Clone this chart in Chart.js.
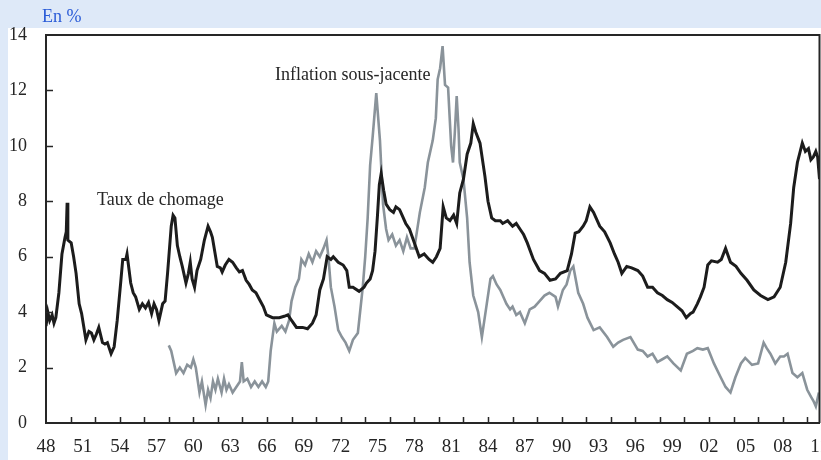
<!DOCTYPE html>
<html lang="fr">
<head>
    <meta charset="UTF-8">
    <title>Taux de chomage et inflation sous-jacente</title>
    <script src="https://cdn.jsdelivr.net/npm/chart.js"></script>
    <style>
        body {
            margin: 0;
            padding: 0;
            background-color: #dee9f8;
            overflow: hidden;
        }
        #wrap {
            width: 821px;
            height: 460px;
            position: relative;
        }
    </style>
</head>
<body>
<div id="wrap">
    <canvas id="chart" width="821" height="460"></canvas>
</div>
<script>
    // Taux de chomage (en %)
    var chomageAnnees = [
        1948.0, 1948.15, 1948.3, 1948.5, 1948.65, 1948.8, 1949.05, 1949.3, 1949.55, 1949.65,
        1949.72, 1949.78, 1950.05, 1950.25, 1950.45, 1950.7, 1950.9, 1951.25, 1951.5, 1951.7,
        1951.9, 1952.1, 1952.3, 1952.6, 1952.8, 1953.0, 1953.3, 1953.55, 1953.8, 1954.1,
        1954.25, 1954.5, 1954.6, 1954.9, 1955.1, 1955.3, 1955.6, 1955.85, 1956.1, 1956.35,
        1956.6, 1956.8, 1957.0, 1957.2, 1957.5, 1957.7, 1957.9, 1958.2, 1958.35, 1958.5,
        1958.7, 1958.9, 1959.1, 1959.4, 1959.6, 1959.75, 1959.9, 1960.1, 1960.3, 1960.6,
        1960.9, 1961.2, 1961.4, 1961.55, 1961.95, 1962.2, 1962.35, 1962.6, 1962.9, 1963.2,
        1963.5, 1963.75, 1964.0, 1964.3, 1964.55, 1964.8, 1965.1, 1965.4, 1965.7, 1965.95,
        1966.45, 1967.0, 1967.4, 1967.7, 1968.0, 1968.4, 1968.9, 1969.3, 1969.7, 1970.0,
        1970.3, 1970.6, 1970.9, 1971.2, 1971.4, 1971.8, 1972.2, 1972.5, 1972.7, 1973.0,
        1973.5, 1973.9, 1974.1, 1974.4, 1974.6, 1974.8, 1975.0, 1975.15, 1975.3, 1975.5,
        1975.7, 1976.0, 1976.3, 1976.5, 1976.8, 1977.0, 1977.3, 1977.6, 1978.0, 1978.4,
        1978.8, 1979.2, 1979.5, 1979.8, 1980.1, 1980.35, 1980.6, 1980.9, 1981.2, 1981.45,
        1981.7, 1982.0, 1982.3, 1982.6, 1982.8, 1983.0, 1983.35, 1983.75, 1984.0, 1984.3,
        1984.6, 1985.0, 1985.2, 1985.6, 1986.0, 1986.3, 1986.6, 1986.9, 1987.2, 1987.7,
        1988.2, 1988.6, 1989.05, 1989.5, 1989.9, 1990.45, 1990.8, 1991.1, 1991.4, 1991.75,
        1992.0, 1992.3, 1992.6, 1993.1, 1993.5, 1993.95, 1994.3, 1994.6, 1994.9, 1995.3,
        1995.7, 1996.2, 1996.6, 1997.0, 1997.4, 1997.8, 1998.2, 1998.6, 1999.0, 1999.4,
        1999.8, 2000.15, 2000.5, 2000.7, 2001.05, 2001.3, 2001.6, 2001.9, 2002.2, 2002.7,
        2003.0, 2003.35, 2003.75, 2004.2, 2004.6, 2005.1, 2005.65, 2006.2, 2006.8, 2007.3,
        2007.8, 2008.25, 2008.65, 2008.9, 2009.2, 2009.6, 2009.85, 2010.1, 2010.3, 2010.5,
        2010.7, 2010.85, 2011.0
    ];
    var chomageTaux = [
        3.5, 4.0, 3.7, 3.9, 3.6, 3.8, 4.7, 6.1, 6.7, 6.9,
        7.95, 6.6, 6.5, 6.0, 5.4, 4.3, 3.95, 3.0, 3.3, 3.25,
        3.0, 3.2, 3.45, 2.9, 2.85, 2.9, 2.5, 2.75, 3.7, 5.15,
        5.9, 5.9, 6.1, 5.05, 4.7, 4.55, 4.1, 4.3, 4.15, 4.35,
        3.95, 4.3, 4.1, 3.7, 4.3, 4.4, 5.4, 7.1, 7.5, 7.4,
        6.4, 6.0, 5.65, 5.05, 5.4, 5.8, 5.2, 4.9, 5.5, 5.9,
        6.6, 7.1, 6.9, 6.7, 5.65, 5.6, 5.45, 5.7, 5.9, 5.8,
        5.6, 5.45, 5.5, 5.15, 5.0, 4.8, 4.7, 4.45, 4.2, 3.9,
        3.8, 3.8, 3.85, 3.9, 3.7, 3.45, 3.45, 3.4, 3.6, 3.9,
        4.8, 5.2, 6.0, 5.9, 6.0, 5.8, 5.7, 5.5, 4.9, 4.9,
        4.75, 4.9, 5.05, 5.2, 5.5, 6.2, 7.5, 8.6, 9.0, 8.4,
        7.9, 7.7, 7.6, 7.8, 7.7, 7.5, 7.2, 7.0, 6.5, 6.0,
        6.1, 5.9, 5.8, 6.0, 6.3, 7.8, 7.4, 7.3, 7.5, 7.2,
        8.3, 8.8, 9.7, 10.1, 10.8, 10.5, 10.1, 8.9, 8.0, 7.4,
        7.3, 7.3, 7.2, 7.3, 7.1, 7.2, 7.0, 6.8, 6.5, 5.9,
        5.5, 5.4, 5.15, 5.2, 5.4, 5.5, 6.1, 6.85, 6.9, 7.1,
        7.3, 7.8, 7.6, 7.1, 6.9, 6.5, 6.1, 5.8, 5.4, 5.65,
        5.6, 5.5, 5.3, 4.9, 4.9, 4.7, 4.6, 4.45, 4.35, 4.2,
        4.05, 3.8, 3.95, 4.0, 4.3, 4.55, 4.9, 5.7, 5.85, 5.8,
        5.9, 6.3, 5.8, 5.65, 5.4, 5.15, 4.8, 4.6, 4.45, 4.55,
        4.9, 5.8, 7.2, 8.5, 9.4, 10.1, 9.8, 9.9, 9.5, 9.6,
        9.8, 9.6, 8.8
    ];

    // Inflation sous-jacente (en %)
    var inflationAnnees = [
        1958.0, 1958.2, 1958.6, 1958.9, 1959.2, 1959.5, 1959.8, 1960.0, 1960.2, 1960.5,
        1960.7, 1961.0, 1961.2, 1961.4, 1961.6, 1961.8, 1962.0, 1962.3, 1962.5, 1962.7,
        1962.9, 1963.2, 1963.5, 1963.8, 1963.95, 1964.1, 1964.4, 1964.7, 1965.0, 1965.3,
        1965.6, 1965.9, 1966.1, 1966.3, 1966.6, 1966.8, 1967.2, 1967.5, 1967.8, 1968.0,
        1968.3, 1968.6, 1968.8, 1969.1, 1969.4, 1969.7, 1970.0, 1970.3, 1970.6, 1970.85,
        1971.0, 1971.2, 1971.5, 1971.8, 1972.1, 1972.4, 1972.7, 1973.0, 1973.4, 1973.8,
        1974.0, 1974.2, 1974.4, 1974.6, 1974.9, 1975.2, 1975.45, 1975.7, 1975.9, 1976.2,
        1976.5, 1976.8, 1977.1, 1977.4, 1977.7, 1978.0, 1978.45, 1978.85, 1979.1, 1979.5,
        1979.75, 1979.9, 1980.1, 1980.3, 1980.5, 1980.75, 1981.0, 1981.15, 1981.3, 1981.45,
        1981.6, 1981.7, 1982.0, 1982.3, 1982.5, 1982.8, 1983.2, 1983.5, 1983.9, 1984.2,
        1984.4, 1984.7, 1985.0, 1985.3, 1985.5, 1985.8, 1986.0, 1986.3, 1986.6, 1987.0,
        1987.4, 1987.8, 1988.2, 1988.6, 1989.0, 1989.5, 1989.7, 1990.1, 1990.4, 1990.7,
        1990.95, 1991.35, 1991.75, 1992.1, 1992.6, 1993.1, 1993.7, 1994.2, 1994.6, 1995.0,
        1995.6, 1996.2, 1996.6, 1997.0, 1997.4, 1997.8, 1998.2, 1998.6, 1999.1, 1999.7,
        2000.2, 2000.7, 2001.05, 2001.5, 2001.9, 2002.4, 2002.95, 2003.35, 2003.75, 2004.15,
        2004.6, 2004.95, 2005.5, 2006.0, 2006.45, 2006.7, 2007.0, 2007.4, 2007.8, 2008.1,
        2008.4, 2008.8, 2009.2, 2009.6, 2010.0, 2010.3, 2010.5, 2010.7, 2010.95
    ];
    var inflationTaux = [
        2.8, 2.6, 1.8, 2.0, 1.8, 2.1, 2.0, 2.3, 2.0, 1.1,
        1.5, 0.65, 1.2, 0.9, 1.5, 1.2, 1.6, 1.1, 1.6, 1.2,
        1.4, 1.1, 1.3, 1.5, 2.2, 1.5, 1.6, 1.3, 1.5, 1.3,
        1.5, 1.3, 1.5, 2.6, 3.6, 3.3, 3.5, 3.3, 3.7, 4.4,
        4.9, 5.2, 5.9, 5.7, 6.1, 5.8, 6.2, 6.0, 6.3, 6.6,
        6.0, 4.9, 4.2, 3.35, 3.1, 2.9, 2.6, 3.0, 3.25, 4.9,
        6.0, 7.4, 9.3, 10.3, 11.9, 10.2, 7.9, 7.0, 6.6, 6.8,
        6.4, 6.6, 6.2, 6.7, 6.3, 6.3, 7.6, 8.5, 9.4, 10.2,
        11.0, 12.4, 12.8, 13.6, 12.2, 12.1, 10.0, 9.4, 10.5, 11.8,
        10.6, 9.4, 8.8, 7.4, 5.8, 4.6, 4.0, 3.1, 4.3, 5.2,
        5.3, 5.0, 4.8, 4.5, 4.3, 4.1, 4.2, 3.9, 4.0, 3.6,
        4.1, 4.2, 4.4, 4.6, 4.7, 4.55, 4.2, 4.8, 5.0, 5.5,
        5.65, 4.7, 4.3, 3.8, 3.35, 3.45, 3.1, 2.75, 2.9, 3.0,
        3.1, 2.65, 2.6, 2.4, 2.5, 2.2, 2.3, 2.4, 2.15, 1.9,
        2.5, 2.6, 2.7, 2.65, 2.7, 2.15, 1.65, 1.3, 1.1, 1.65,
        2.15, 2.35, 2.1, 2.15, 2.9, 2.7, 2.5, 2.15, 2.4, 2.4,
        2.5, 1.8, 1.65, 1.8, 1.2, 0.95, 0.8, 0.6, 1.1
    ];

    var anneeMin = 1948;
    var anneeMax = 2011;
    var yTicks = [0, 2, 4, 6, 8, 10, 12, 14];

    function toPoints(xs, ys) {
        return xs.map(function (x, i) { return { x: x, y: ys[i] }; });
    }

    var axisColor = '#262626';
    var textColor = '#262626';

    // fond bleu + cadre blanc, graduations vers l'interieur
    var fondPlugin = {
        id: 'fond',
        beforeDraw: function (chart) {
            var c = chart.ctx;
            c.save();
            c.fillStyle = '#dee9f8';
            c.fillRect(0, 0, chart.width, chart.height);
            c.fillStyle = '#ffffff';
            c.fillRect(8, 28, chart.width - 8, chart.height - 28);
            c.fillStyle = '#2a5bd7';
            c.font = '18px "Liberation Serif", serif';
            c.textBaseline = 'alphabetic';
            c.fillText('En %', 42, 22);
            c.restore();
        },
        afterDraw: function (chart) {
            var c = chart.ctx;
            var a = chart.chartArea;
            var xs = chart.scales.x;
            var ys = chart.scales.y;
            c.save();
            c.strokeStyle = axisColor;
            c.lineWidth = 2;
            c.beginPath();
            c.moveTo(a.left, a.top);
            c.lineTo(a.right, a.top);
            c.lineTo(a.right, a.bottom);
            c.stroke();

            c.lineWidth = 1.5;
            c.beginPath();
            yTicks.forEach(function (v) {
                if (v === 0 || v === 14) return;
                var py = Math.round(ys.getPixelForValue(v)) + 0.5;
                c.moveTo(a.left, py);
                c.lineTo(a.left + 7, py);
            });
            for (var yr = anneeMin + 2; yr < anneeMax; yr += 2) {
                var px = Math.round(xs.getPixelForValue(yr)) + 0.5;
                c.moveTo(px, a.bottom);
                c.lineTo(px, a.bottom - 6);
            }
            c.stroke();

            c.fillStyle = textColor;
            c.font = '18px "Liberation Serif", serif';
            c.textBaseline = 'middle';
            c.fillText('Taux de chomage', xs.getPixelForValue(1952.15), ys.getPixelForValue(8.05));
            c.fillText('Inflation sous-jacente', xs.getPixelForValue(1966.65), ys.getPixelForValue(12.55));
            c.restore();
        }
    };

    new Chart(document.getElementById('chart'), {
        type: 'line',
        data: {
            datasets: [{
                label: 'Taux de chomage',
                data: toPoints(chomageAnnees, chomageTaux),
                borderColor: '#1c1c1c',
                borderWidth: 3,
                pointRadius: 0,
                tension: 0
            }, {
                label: 'Inflation sous-jacente',
                data: toPoints(inflationAnnees, inflationTaux),
                borderColor: '#8a939a',
                borderWidth: 2.6,
                pointRadius: 0,
                tension: 0
            }]
        },
        plugins: [fondPlugin],
        options: {
            responsive: false,
            animation: false,
            layout: { padding: { top: 35, right: 1.5, left: 0, bottom: 0 } },
            plugins: {
                legend: { display: false },
                tooltip: { enabled: false }
            },
            scales: {
                x: {
                    type: 'linear',
                    min: anneeMin,
                    max: anneeMax,
                    afterBuildTicks: function (scale) {
                        var t = [];
                        for (var v = anneeMin; v <= anneeMax; v += 3) t.push({ value: v });
                        scale.ticks = t;
                    },
                    afterFit: function (scale) {
                        scale.height = 37;
                        scale.paddingLeft = 0;
                        scale.paddingRight = 0;
                    },
                    ticks: {
                        autoSkip: false,
                        maxRotation: 0,
                        padding: 13,
                        color: textColor,
                        font: { family: '"Liberation Serif", serif', size: 19 },
                        callback: function (v) {
                            return String(v % 100).padStart(2, '0');
                        }
                    },
                    grid: {
                        display: false,
                        drawTicks: false
                    },
                    border: { display: true, color: axisColor, width: 2 }
                },
                y: {
                    min: 0,
                    max: 14,
                    afterBuildTicks: function (scale) {
                        scale.ticks = yTicks.map(function (v) { return { value: v }; });
                    },
                    afterFit: function (scale) {
                        scale.width = 46;
                        scale.paddingTop = 0;
                        scale.paddingBottom = 0;
                    },
                    ticks: {
                        padding: 19,
                        color: textColor,
                        font: { family: '"Liberation Serif", serif', size: 18 }
                    },
                    grid: {
                        display: false,
                        drawTicks: false
                    },
                    border: { display: true, color: axisColor, width: 2 }
                }
            }
        }
    });
</script>
</body>
</html>
